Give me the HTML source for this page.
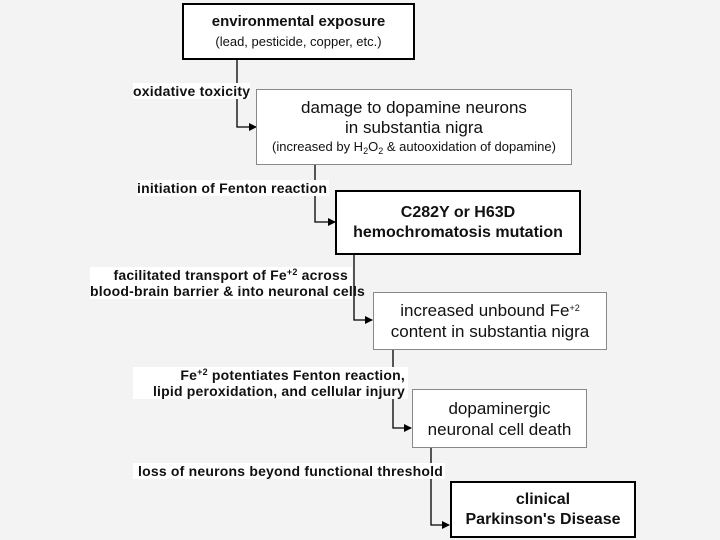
<!DOCTYPE html>
<html><head><meta charset="utf-8"><style>
body{margin:0;width:720px;height:540px;background:#f3f3f3;position:relative;overflow:hidden;font-family:"Liberation Sans",Arial,sans-serif;color:#111}
.b{position:absolute;background:#fff;box-sizing:border-box;display:flex;flex-direction:column;justify-content:center;align-items:center;text-align:center}
.thick{border:2px solid #000;font-weight:bold;font-size:16px;line-height:20px}
.thin{border:1px solid #888;font-size:17px;line-height:21px}
.l{position:absolute;background:#fff;font-weight:bold;font-size:14px;letter-spacing:0.2px;line-height:16px;text-align:right;white-space:nowrap}
sup{font-size:9px;vertical-align:5px;line-height:0}
sub{font-size:9px;vertical-align:-3px;line-height:0}
svg{position:absolute;left:0;top:0}
</style></head><body>
<svg width="720" height="540">
<defs><marker id="a" markerWidth="8" markerHeight="8" refX="7" refY="4" orient="auto" markerUnits="userSpaceOnUse"><path d="M0,0 L8,4 L0,8z" fill="#000"/></marker></defs>
<g stroke="#000" stroke-width="1.3" fill="none">
<path d="M237,60 V127 H256" marker-end="url(#a)"/>
<path d="M315,164 V222 H335" marker-end="url(#a)"/>
<path d="M354,254 V320 H372" marker-end="url(#a)"/>
<path d="M393,350 V428 H411" marker-end="url(#a)"/>
<path d="M431,447 V525 H449" marker-end="url(#a)"/>
</g></svg>
<div class="l" style="left:133px;top:83px;width:117px;text-align:left">oxidative toxicity</div>
<div class="l" style="left:137px;top:180px;width:192px;text-align:left">initiation of Fenton reaction</div>
<div class="l" style="left:90px;top:267px;width:258px;padding-right:4px">facilitated transport of Fe<sup>+2</sup> across<br>blood-brain barrier &amp; into neuronal cells</div>
<div class="l" style="left:133px;top:367px;width:272px;padding-right:3px">Fe<sup>+2</sup> potentiates Fenton reaction,<br>lipid peroxidation, and cellular injury</div>
<div class="l" style="left:133px;top:463px;width:312px;text-align:left;padding-left:5px;box-sizing:border-box">loss of neurons beyond functional threshold</div>
<div class="b thick" style="left:182px;top:3px;width:233px;height:57px;line-height:20px"><div style="font-size:15px">environmental exposure</div><div style="font-weight:normal;font-size:13px">(lead, pesticide, copper, etc.)</div></div>
<div class="b thin" style="left:256px;top:89px;width:316px;height:76px;line-height:20px"><div>damage to dopamine neurons<br>in substantia nigra</div><div style="font-size:13px;line-height:18px">(increased by H<sub>2</sub>O<sub>2</sub> &amp; autooxidation of dopamine)</div></div>
<div class="b thick" style="left:335px;top:190px;width:246px;height:65px"><div>C282Y or H63D<br>hemochromatosis mutation</div></div>
<div class="b thin" style="left:373px;top:292px;width:234px;height:58px"><div>increased unbound Fe<sup>+2</sup><br>content in substantia nigra</div></div>
<div class="b thin" style="left:412px;top:389px;width:175px;height:59px"><div>dopaminergic<br>neuronal cell death</div></div>
<div class="b thick" style="left:450px;top:481px;width:186px;height:57px"><div>clinical<br>Parkinson's Disease</div></div>
</body></html>
